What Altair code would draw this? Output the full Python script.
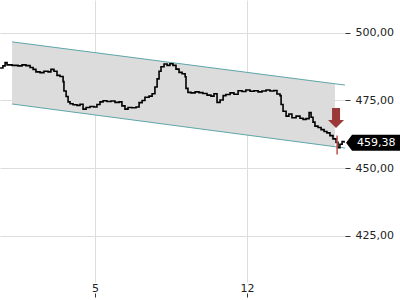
import altair as alt
import pandas as pd

# price series (time in days, price)
times = [0.63, 0.76, 0.86, 0.95, 1.18, 1.45, 1.64, 1.82, 2.01, 2.15, 2.28, 2.47, 2.65, 2.84, 2.97,
         3.11, 3.25, 3.39, 3.53, 3.57, 3.67, 3.76, 3.85, 3.99, 4.17, 4.31, 4.45, 4.59, 4.77, 4.95,
         5.09, 5.23, 5.37, 5.55, 5.74, 5.92, 6.11, 6.24, 6.38, 6.52, 6.70, 6.89, 7.03, 7.17, 7.30,
         7.49, 7.63, 7.76, 7.86, 7.95, 8.04, 8.18, 8.32, 8.45, 8.59, 8.73, 8.87, 9.01, 9.15, 9.19,
         9.28, 9.42, 9.61, 9.79, 9.97, 10.16, 10.34, 10.48, 10.62, 10.76, 10.90, 11.03, 11.22, 11.40,
         11.59, 11.77, 11.95, 12.14, 12.32, 12.51, 12.69, 12.88, 13.06, 13.24, 13.38, 13.52, 13.57,
         13.66, 13.80, 13.93, 14.07, 14.26, 14.44, 14.58, 14.72, 14.86, 14.95, 15.04, 15.13, 15.27,
         15.41, 15.55, 15.68, 15.82, 15.96, 16.10, 16.19, 16.28, 16.38, 16.47]
prices = [487.0, 487.8, 489.0, 488.2, 488.0, 487.8, 488.2, 487.9, 487.2, 486.5, 485.6, 485.3, 485.8,
          485.6, 486.5, 485.8, 484.3, 483.9, 482.0, 478.5, 476.5, 474.5, 473.8, 473.4, 473.2, 473.6,
          471.8, 472.4, 472.8, 472.6, 473.5, 474.5, 474.9, 474.6, 474.8, 474.3, 474.5, 473.0, 471.8,
          472.4, 472.3, 472.6, 474.2, 475.0, 476.2, 476.6, 477.5, 480.0, 483.0, 485.8, 487.5, 488.5,
          488.0, 488.6, 488.0, 486.6, 485.4, 484.9, 483.8, 479.5, 478.0, 477.8, 478.2, 477.9, 477.6,
          477.0, 476.6, 477.5, 474.3, 475.2, 476.8, 477.2, 477.8, 477.3, 478.6, 478.3, 478.9, 478.4,
          478.6, 478.2, 478.5, 478.9, 478.5, 478.7, 477.4, 476.8, 473.5, 471.0, 469.2, 470.0, 468.6,
          469.2, 468.4, 468.0, 468.3, 470.5, 468.8, 467.0, 465.5, 465.0, 464.2, 463.5, 463.0, 462.0,
          460.8, 459.5, 457.5, 458.8, 459.8, 459.38]

# trend channel
chan_t = [1.18, 16.05]
chan_upper = [496.7, 481.2]
chan_lower = [473.7, 457.9]
chan_line_t = [1.18, 16.51]
chan_line_upper = [496.7, 480.7]
chan_line_lower = [473.7, 457.4]

# signal arrow / marker
arrow_t = [16.10]
arrow_v = [468.5]
mark_t = [16.15]
mark_lo = [455.0]
mark_hi = [462.0]

last_t = [16.47]
last_v = [459.38]
last_label = ["459,38"]

y_ticks = [425, 450, 475, 500]
x_ticks = [5, 12]
x_labels = ["5", "12"]

price_df = pd.DataFrame({"t": times, "v": prices})
chan_df = pd.DataFrame({"t": chan_t, "lo": chan_lower, "hi": chan_upper})
line_df = pd.DataFrame({"t": chan_line_t * 2,
                        "v": chan_line_upper + chan_line_lower,
                        "s": ["up", "up", "lo", "lo"]})
arrow_df = pd.DataFrame({"t": arrow_t, "v": arrow_v})
mark_df = pd.DataFrame({"t": mark_t, "lo": mark_lo, "hi": mark_hi})
last_df = pd.DataFrame({"t": last_t, "v": last_v, "lab": last_label})

FONT = "DejaVu Sans"
xs = alt.Scale(domain=[0.625, 16.513], nice=False, zero=False)
ys = alt.Scale(domain=[407.8, 512.2], nice=False, zero=False)

label_expr_x = "datum.value == 5 ? '5' : '12'"
xaxis = alt.Axis(values=x_ticks, labelExpr=label_expr_x, title=None, grid=True,
                 gridColor="#dddddd", domain=False, offset=11, tickSize=4,
                 tickColor="#333333", labelPadding=-15, labelFont=FONT, labelFontSize=11,
                 labelColor="#222222")
yaxis = alt.Axis(values=y_ticks, orient="right", title=None, grid=True, gridColor="#dddddd",
                 domain=False, tickSize=5, tickColor="#333333", labelPadding=5,
                 labelExpr="replace(format(datum.value, '.2f'), '.', ',')",
                 labelFont=FONT, labelFontSize=11, labelColor="#222222")


def X(f):
    return alt.X(f, type="quantitative", scale=xs, axis=xaxis)


def Y(f):
    return alt.Y(f, type="quantitative", scale=ys, axis=yaxis)


area = alt.Chart(chan_df).mark_area(color="#dcdcdc", opacity=1).encode(
    x=X("t"), y=Y("lo"), y2="hi")

lines = alt.Chart(line_df).mark_line(color="#5ea6aa", strokeWidth=1).encode(
    x=X("t"), y=Y("v"), detail="s:N")

price = alt.Chart(price_df).mark_line(color="black", strokeWidth=1.6,
                                      interpolate="step-after").encode(
    x=X("t"), y=Y("v"))

marker = alt.Chart(mark_df).mark_rule(color="#c0504d", strokeWidth=1.5).encode(
    x=X("t"), y=Y("lo"), y2="hi")

arrow = alt.Chart(arrow_df).mark_point(
    shape="M-0.4,-1 L0.4,-1 L0.4,0.2 L0.8,0.2 L0,1 L-0.8,0.2 L-0.4,0.2 Z",
    size=400, filled=True, color="#9b3838", opacity=1, strokeWidth=0).encode(
    x=X("t"), y=Y("v"))

box = alt.Chart(last_df).mark_point(
    shape="M0.25,0 L1,-1 L7,-1 L7,1 L1,1 Z",
    size=256, filled=True, color="black", opacity=1, strokeWidth=0).encode(
    x=X("t"), y=Y("v"))

txt = alt.Chart(last_df).mark_text(align="left", baseline="middle", dx=13, dy=0.5,
                                   color="white", font=FONT, fontSize=11).encode(
    x=X("t"), y=Y("v"), text="lab:N")

chart = alt.layer(area, lines, price, marker, arrow, box, txt).properties(
    width=345, height=282,
    autosize=alt.AutoSizeParams(type="none"),
    padding={"left": 0, "top": 0, "right": 55, "bottom": 18},
    background="white",
).configure_view(stroke=None)

chart.save("out.html", embed_options={"renderer": "svg", "actions": False})
